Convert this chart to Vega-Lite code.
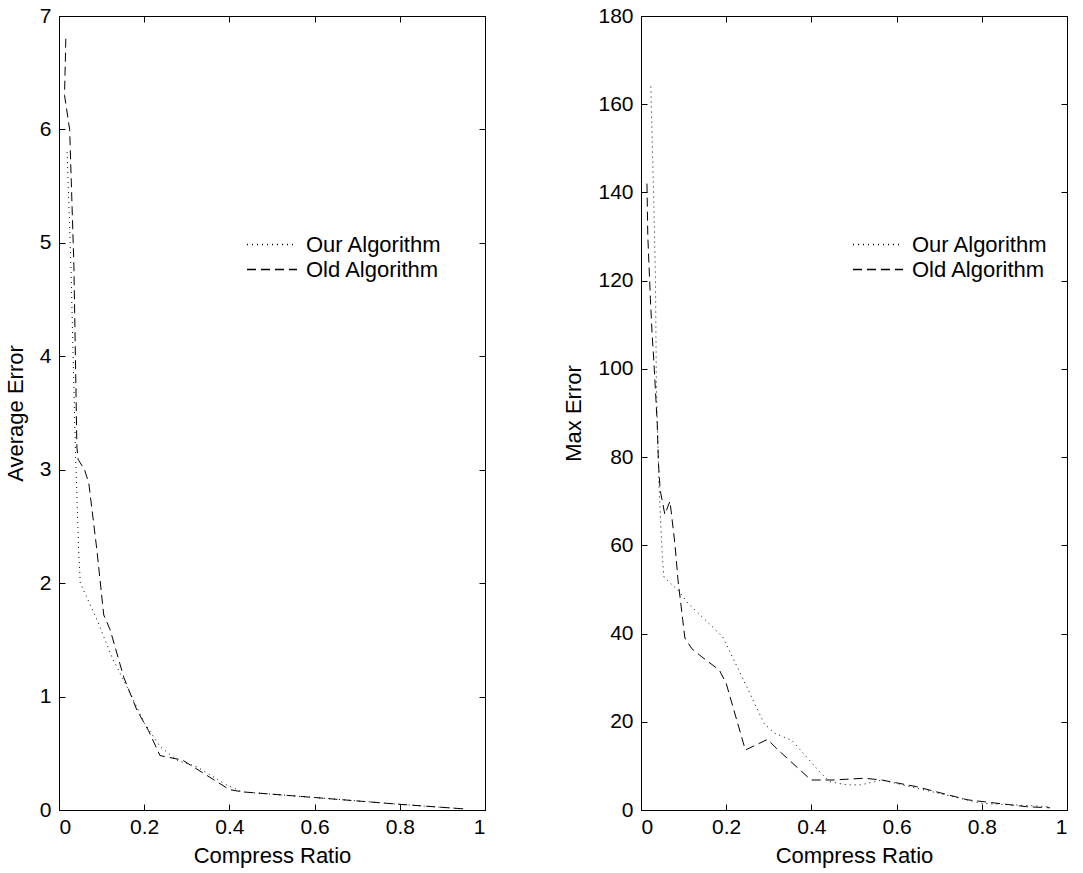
{
  "$schema": "https://vega.github.io/schema/vega-lite/v6.json",
  "background": "white",
  "padding": {"left": 3, "top": 4, "right": 5, "bottom": 5},
  "config": {
    "font": "Liberation Sans",
    "view": {"stroke": "black", "strokeWidth": 1},
    "axis": {
      "grid": false,
      "domainColor": "black",
      "domainWidth": 1,
      "tickColor": "black",
      "tickSize": -6,
      "labelColor": "black",
      "titleColor": "black",
      "labelFont": "Liberation Sans",
      "titleFont": "Liberation Sans",
      "labelFontSize": 21,
      "titleFontSize": 22,
      "titleFontWeight": "normal"
    },
    "axisX": {"labelPadding": 12, "titlePadding": 8},
    "axisY": {"labelPadding": 14, "titlePadding": 12},
    "legend": {
      "orient": "none",
      "padding": 0,
      "labelFont": "Liberation Sans",
      "labelFontSize": 22,
      "labelColor": "black",
      "labelOffset": 8,
      "rowPadding": 0,
      "clipHeight": 25,
      "symbolType": "stroke",
      "symbolSize": 2500,
      "symbolStrokeColor": "black",
      "symbolStrokeWidth": 1.5
    }
  },
  "datasets": {
    "d": [
      {"p": "avg", "s": "Our Algorithm", "i": 1, "x": 0.019, "y": 5.8},
      {"p": "avg", "s": "Our Algorithm", "i": 2, "x": 0.028, "y": 4.8},
      {"p": "avg", "s": "Our Algorithm", "i": 3, "x": 0.038, "y": 3.25},
      {"p": "avg", "s": "Our Algorithm", "i": 4, "x": 0.046, "y": 2.3},
      {"p": "avg", "s": "Our Algorithm", "i": 5, "x": 0.05, "y": 2.0},
      {"p": "avg", "s": "Our Algorithm", "i": 6, "x": 0.089, "y": 1.68},
      {"p": "avg", "s": "Our Algorithm", "i": 7, "x": 0.124, "y": 1.35},
      {"p": "avg", "s": "Our Algorithm", "i": 8, "x": 0.167, "y": 1.03},
      {"p": "avg", "s": "Our Algorithm", "i": 9, "x": 0.2, "y": 0.77},
      {"p": "avg", "s": "Our Algorithm", "i": 10, "x": 0.237, "y": 0.56},
      {"p": "avg", "s": "Our Algorithm", "i": 11, "x": 0.277, "y": 0.44},
      {"p": "avg", "s": "Our Algorithm", "i": 12, "x": 0.324, "y": 0.38},
      {"p": "avg", "s": "Our Algorithm", "i": 13, "x": 0.394, "y": 0.22},
      {"p": "avg", "s": "Our Algorithm", "i": 14, "x": 0.43, "y": 0.16},
      {"p": "avg", "s": "Our Algorithm", "i": 15, "x": 0.6, "y": 0.11},
      {"p": "avg", "s": "Our Algorithm", "i": 16, "x": 0.8, "y": 0.05},
      {"p": "avg", "s": "Our Algorithm", "i": 17, "x": 0.95, "y": 0.01},

      {"p": "avg", "s": "Old Algorithm", "i": 1, "x": 0.016, "y": 6.8},
      {"p": "avg", "s": "Old Algorithm", "i": 2, "x": 0.013, "y": 6.3},
      {"p": "avg", "s": "Old Algorithm", "i": 3, "x": 0.025, "y": 6.0},
      {"p": "avg", "s": "Old Algorithm", "i": 4, "x": 0.035, "y": 4.8},
      {"p": "avg", "s": "Old Algorithm", "i": 5, "x": 0.042, "y": 3.2},
      {"p": "avg", "s": "Old Algorithm", "i": 6, "x": 0.045, "y": 3.09},
      {"p": "avg", "s": "Old Algorithm", "i": 7, "x": 0.06, "y": 3.0},
      {"p": "avg", "s": "Old Algorithm", "i": 8, "x": 0.07, "y": 2.88},
      {"p": "avg", "s": "Old Algorithm", "i": 9, "x": 0.089, "y": 2.29},
      {"p": "avg", "s": "Old Algorithm", "i": 10, "x": 0.105, "y": 1.72},
      {"p": "avg", "s": "Old Algorithm", "i": 11, "x": 0.12, "y": 1.59},
      {"p": "avg", "s": "Old Algorithm", "i": 12, "x": 0.152, "y": 1.17},
      {"p": "avg", "s": "Old Algorithm", "i": 13, "x": 0.183, "y": 0.88},
      {"p": "avg", "s": "Old Algorithm", "i": 14, "x": 0.21, "y": 0.7},
      {"p": "avg", "s": "Old Algorithm", "i": 15, "x": 0.237, "y": 0.48},
      {"p": "avg", "s": "Old Algorithm", "i": 16, "x": 0.29, "y": 0.44},
      {"p": "avg", "s": "Old Algorithm", "i": 17, "x": 0.4, "y": 0.18},
      {"p": "avg", "s": "Old Algorithm", "i": 18, "x": 0.43, "y": 0.16},
      {"p": "avg", "s": "Old Algorithm", "i": 19, "x": 0.6, "y": 0.11},
      {"p": "avg", "s": "Old Algorithm", "i": 20, "x": 0.8, "y": 0.05},
      {"p": "avg", "s": "Old Algorithm", "i": 21, "x": 0.95, "y": 0.01},

      {"p": "max", "s": "Our Algorithm", "i": 1, "x": 0.023, "y": 164},
      {"p": "max", "s": "Our Algorithm", "i": 2, "x": 0.026, "y": 153},
      {"p": "max", "s": "Our Algorithm", "i": 3, "x": 0.03, "y": 138},
      {"p": "max", "s": "Our Algorithm", "i": 4, "x": 0.034, "y": 120},
      {"p": "max", "s": "Our Algorithm", "i": 5, "x": 0.036, "y": 97},
      {"p": "max", "s": "Our Algorithm", "i": 6, "x": 0.042, "y": 74},
      {"p": "max", "s": "Our Algorithm", "i": 7, "x": 0.05, "y": 57.4},
      {"p": "max", "s": "Our Algorithm", "i": 8, "x": 0.054, "y": 52.8},
      {"p": "max", "s": "Our Algorithm", "i": 9, "x": 0.087, "y": 49.8},
      {"p": "max", "s": "Our Algorithm", "i": 10, "x": 0.111, "y": 46.8},
      {"p": "max", "s": "Our Algorithm", "i": 11, "x": 0.168, "y": 41.5},
      {"p": "max", "s": "Our Algorithm", "i": 12, "x": 0.192, "y": 39.2},
      {"p": "max", "s": "Our Algorithm", "i": 13, "x": 0.241, "y": 29.4},
      {"p": "max", "s": "Our Algorithm", "i": 14, "x": 0.289, "y": 19.6},
      {"p": "max", "s": "Our Algorithm", "i": 15, "x": 0.314, "y": 17.4},
      {"p": "max", "s": "Our Algorithm", "i": 16, "x": 0.354, "y": 15.8},
      {"p": "max", "s": "Our Algorithm", "i": 17, "x": 0.419, "y": 8.7},
      {"p": "max", "s": "Our Algorithm", "i": 18, "x": 0.443, "y": 6.4},
      {"p": "max", "s": "Our Algorithm", "i": 19, "x": 0.484, "y": 5.7},
      {"p": "max", "s": "Our Algorithm", "i": 20, "x": 0.516, "y": 5.7},
      {"p": "max", "s": "Our Algorithm", "i": 21, "x": 0.565, "y": 6.8},
      {"p": "max", "s": "Our Algorithm", "i": 22, "x": 0.8, "y": 1.5},
      {"p": "max", "s": "Our Algorithm", "i": 23, "x": 0.962, "y": 0.75},

      {"p": "max", "s": "Old Algorithm", "i": 1, "x": 0.014, "y": 142},
      {"p": "max", "s": "Old Algorithm", "i": 2, "x": 0.016, "y": 130},
      {"p": "max", "s": "Old Algorithm", "i": 3, "x": 0.022, "y": 116},
      {"p": "max", "s": "Old Algorithm", "i": 4, "x": 0.026, "y": 108},
      {"p": "max", "s": "Old Algorithm", "i": 5, "x": 0.03, "y": 102},
      {"p": "max", "s": "Old Algorithm", "i": 6, "x": 0.034, "y": 95},
      {"p": "max", "s": "Old Algorithm", "i": 7, "x": 0.038, "y": 87.7},
      {"p": "max", "s": "Old Algorithm", "i": 8, "x": 0.041, "y": 78.6},
      {"p": "max", "s": "Old Algorithm", "i": 9, "x": 0.045, "y": 72.5},
      {"p": "max", "s": "Old Algorithm", "i": 10, "x": 0.056, "y": 67},
      {"p": "max", "s": "Old Algorithm", "i": 11, "x": 0.068, "y": 70},
      {"p": "max", "s": "Old Algorithm", "i": 12, "x": 0.08, "y": 60},
      {"p": "max", "s": "Old Algorithm", "i": 13, "x": 0.087, "y": 52},
      {"p": "max", "s": "Old Algorithm", "i": 14, "x": 0.103, "y": 39},
      {"p": "max", "s": "Old Algorithm", "i": 15, "x": 0.119, "y": 36.6},
      {"p": "max", "s": "Old Algorithm", "i": 16, "x": 0.143, "y": 34.7},
      {"p": "max", "s": "Old Algorithm", "i": 17, "x": 0.184, "y": 31.7},
      {"p": "max", "s": "Old Algorithm", "i": 18, "x": 0.2, "y": 28.7},
      {"p": "max", "s": "Old Algorithm", "i": 19, "x": 0.245, "y": 13.6},
      {"p": "max", "s": "Old Algorithm", "i": 20, "x": 0.297, "y": 16},
      {"p": "max", "s": "Old Algorithm", "i": 21, "x": 0.322, "y": 13.6},
      {"p": "max", "s": "Old Algorithm", "i": 22, "x": 0.399, "y": 6.8},
      {"p": "max", "s": "Old Algorithm", "i": 23, "x": 0.451, "y": 6.8},
      {"p": "max", "s": "Old Algorithm", "i": 24, "x": 0.524, "y": 7.2},
      {"p": "max", "s": "Old Algorithm", "i": 25, "x": 0.565, "y": 6.8},
      {"p": "max", "s": "Old Algorithm", "i": 26, "x": 0.646, "y": 5.3},
      {"p": "max", "s": "Old Algorithm", "i": 27, "x": 0.767, "y": 2.3},
      {"p": "max", "s": "Old Algorithm", "i": 28, "x": 0.905, "y": 0.75},
      {"p": "max", "s": "Old Algorithm", "i": 29, "x": 0.96, "y": 0.5}
    ]
  },
  "spacing": 76,
  "hconcat": [
    {
      "width": 426,
      "height": 794,
      "data": {"name": "d"},
      "transform": [{"filter": "datum.p == 'avg'"}],
      "layer": [
        {
          "mark": {"type": "line", "color": "black", "strokeWidth": 1},
          "encoding": {
            "x": {"field": "x", "type": "quantitative", "scale": {"domain": [0, 1], "nice": false}, "axis": {"orient": "bottom", "values": [0, 0.2, 0.4, 0.6, 0.8, 1], "format": "~g", "title": "Compress Ratio"}},
            "y": {"field": "y", "type": "quantitative", "scale": {"domain": [0, 7], "nice": false}, "axis": {"orient": "left", "values": [0, 1, 2, 3, 4, 5, 6, 7], "title": "Average Error"}},
            "strokeDash": {"field": "s", "type": "nominal", "scale": {"domain": ["Our Algorithm", "Old Algorithm"], "range": [[1, 4], [9, 5]]}, "legend": {"title": null, "legendX": 187, "legendY": 216}},
            "order": {"field": "i", "type": "quantitative"}
          }
        },
        {
          "mark": {"type": "line", "opacity": 0},
          "encoding": {
            "x": {"field": "x", "type": "quantitative", "scale": {"domain": [0, 1], "nice": false}, "axis": {"orient": "top", "values": [0, 0.2, 0.4, 0.6, 0.8, 1], "labels": false, "title": null}},
            "y": {"field": "y", "type": "quantitative", "scale": {"domain": [0, 7], "nice": false}, "axis": {"orient": "right", "values": [0, 1, 2, 3, 4, 5, 6, 7], "labels": false, "title": null}}
          }
        }
      ],
      "resolve": {"axis": {"x": "independent", "y": "independent"}}
    },
    {
      "width": 426,
      "height": 794,
      "data": {"name": "d"},
      "transform": [{"filter": "datum.p == 'max'"}],
      "layer": [
        {
          "mark": {"type": "line", "color": "black", "strokeWidth": 1},
          "encoding": {
            "x": {"field": "x", "type": "quantitative", "scale": {"domain": [0, 1], "nice": false}, "axis": {"orient": "bottom", "values": [0, 0.2, 0.4, 0.6, 0.8, 1], "format": "~g", "title": "Compress Ratio"}},
            "y": {"field": "y", "type": "quantitative", "scale": {"domain": [0, 180], "nice": false}, "axis": {"orient": "left", "values": [0, 20, 40, 60, 80, 100, 120, 140, 160, 180], "title": "Max Error"}},
            "strokeDash": {"field": "s", "type": "nominal", "scale": {"domain": ["Our Algorithm", "Old Algorithm"], "range": [[1, 4], [9, 5]]}, "legend": {"title": null, "legendX": 211, "legendY": 216}},
            "order": {"field": "i", "type": "quantitative"}
          }
        },
        {
          "mark": {"type": "line", "opacity": 0},
          "encoding": {
            "x": {"field": "x", "type": "quantitative", "scale": {"domain": [0, 1], "nice": false}, "axis": {"orient": "top", "values": [0, 0.2, 0.4, 0.6, 0.8, 1], "labels": false, "title": null}},
            "y": {"field": "y", "type": "quantitative", "scale": {"domain": [0, 180], "nice": false}, "axis": {"orient": "right", "values": [0, 20, 40, 60, 80, 100, 120, 140, 160, 180], "labels": false, "title": null}}
          }
        }
      ],
      "resolve": {"axis": {"x": "independent", "y": "independent"}}
    }
  ],
  "resolve": {"scale": {"strokeDash": "independent"}, "legend": {"strokeDash": "independent"}}
}
